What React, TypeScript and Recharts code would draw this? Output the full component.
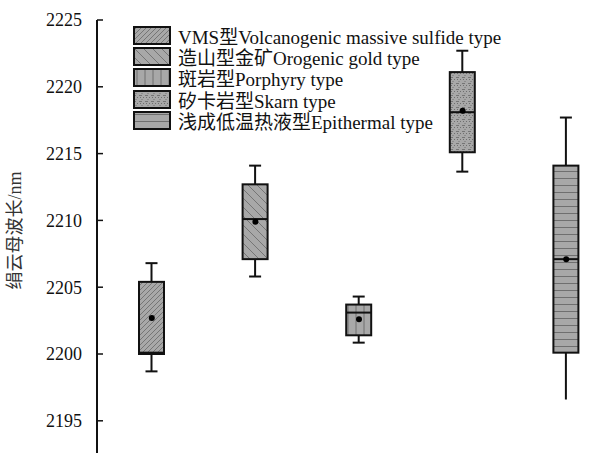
import {
  ComposedChart,
  Bar,
  Scatter,
  XAxis,
  YAxis,
  Legend,
} from "recharts";

const types = [
  "VMS型Volcanogenic massive sulfide type",
  "造山型金矿Orogenic gold type",
  "斑岩型Porphyry type",
  "矽卡岩型Skarn type",
  "浅成低温热液型Epithermal type",
];
const minVals = [2198.7, 2205.8, 2200.85, 2213.65, 2196.6];
const q1Vals = [2200.0, 2207.1, 2201.4, 2215.1, 2200.1];
const medianVals = [2200.1, 2210.1, 2203.1, 2218.1, 2207.1];
const q3Vals = [2205.4, 2212.7, 2203.7, 2221.1, 2214.1];
const maxVals = [2206.8, 2214.1, 2204.3, 2222.7, 2217.7];
const meanVals = [2202.7, 2209.9, 2202.6, 2218.2, 2207.1];
const yTicks = [2195, 2200, 2205, 2210, 2215, 2220, 2225];

const patternIds = ["pVms", "pOro", "pPor", "pSkarn", "pEpi"];
const lowerCap = [true, true, true, true, false];

const data = types.map((name, i) => ({
  name,
  min: minVals[i],
  q1: q1Vals[i],
  median: medianVals[i],
  q3: q3Vals[i],
  max: maxVals[i],
  mean: meanVals[i],
}));

const serif = "Liberation Serif, Noto Sans CJK SC";
const FILL = "#a8a8a8";
const HATCH = "#6f6f6f";

function Patterns() {
  return (
    <defs>
      <pattern id="pVms" width="5" height="5" patternUnits="userSpaceOnUse">
        <rect width="5" height="5" fill={FILL} />
        <path d="M0,5 L5,0 M-1,1 L1,-1 M4,6 L6,4" stroke={HATCH} strokeWidth="0.9" />
      </pattern>
      <pattern id="pOro" width="9" height="9" patternUnits="userSpaceOnUse">
        <rect width="9" height="9" fill={FILL} />
        <path d="M0,0 L9,9 M-1,8 L1,10 M8,-1 L10,1" stroke={HATCH} strokeWidth="0.9" />
      </pattern>
      <pattern id="pPor" width="8" height="8" patternUnits="userSpaceOnUse">
        <rect width="8" height="8" fill={FILL} />
        <path d="M4,0 L4,8" stroke={HATCH} strokeWidth="1" />
      </pattern>
      <pattern id="pSkarn" width="6" height="6" patternUnits="userSpaceOnUse">
        <rect width="6" height="6" fill={FILL} />
        <rect x="1" y="1" width="1" height="1" fill={HATCH} />
        <rect x="4" y="1" width="1" height="1" fill={HATCH} />
        <rect x="2.5" y="3" width="1" height="1" fill={HATCH} />
        <path d="M0,5.5 L3,5.5" stroke={HATCH} strokeWidth="0.9" />
      </pattern>
      <pattern id="pEpi" width="7" height="7" patternUnits="userSpaceOnUse">
        <rect width="7" height="7" fill={FILL} />
        <path d="M0,3.5 L7,3.5" stroke={HATCH} strokeWidth="1" />
      </pattern>
    </defs>
  );
}

// box + whiskers, positioned from the [min, max] range bar the chart gives us
function BoxShape(props: any) {
  const { x, y, width, height, payload, index } = props;
  if (x == null || y == null) return null;
  const top = Math.min(y, y + height);
  const bottom = Math.max(y, y + height);
  const span = payload.max - payload.min;
  const py = (v: number) => bottom - ((v - payload.min) / span) * (bottom - top);
  const cx = x + width / 2;
  const cap = 6;
  const yq1 = py(payload.q1);
  const yq3 = py(payload.q3);
  const ymed = py(payload.median);
  return (
    <g>
      <line x1={cx} x2={cx} y1={top} y2={bottom} stroke="#111" strokeWidth={2} />
      <line x1={cx - cap} x2={cx + cap} y1={top} y2={top} stroke="#111" strokeWidth={2} />
      {lowerCap[index] && (
        <line x1={cx - cap} x2={cx + cap} y1={bottom} y2={bottom} stroke="#111" strokeWidth={2} />
      )}
      <rect
        x={x}
        y={yq3}
        width={width}
        height={yq1 - yq3}
        fill={`url(#${patternIds[index]})`}
        stroke="#111"
        strokeWidth={2}
      />
      <line x1={x} x2={x + width} y1={ymed} y2={ymed} stroke="#111" strokeWidth={2} />
    </g>
  );
}

function YTick({ x, y, payload }: any) {
  return (
    <g>
      <line x1={x} x2={x + 6} y1={y} y2={y} stroke="#111" strokeWidth={1.5} />
      <text
        x={x - 15}
        y={y}
        dy="0.36em"
        textAnchor="end"
        fontFamily={serif}
        fontSize={18}
        fill="#111"
      >
        {payload.value}
      </text>
    </g>
  );
}

function YLabel({ viewBox }: any) {
  const cx = 15;
  const cy = viewBox.y + viewBox.height / 2 - 6;
  return (
    <text
      x={cx}
      y={cy}
      transform={`rotate(-90 ${cx} ${cy})`}
      textAnchor="middle"
      dominantBaseline="central"
      fontFamily={serif}
      fontSize={18}
      fill="#333"
    >
      绢云母波长/nm
    </text>
  );
}

function LegendBox() {
  return (
    <div style={{ fontFamily: serif, fontSize: 19, color: "#111" }}>
      {types.map((t, i) => (
        <div key={t} style={{ display: "flex", alignItems: "center", height: 21.2, whiteSpace: "nowrap" }}>
          <svg width={38} height={19} style={{ marginRight: 7, flex: "none" }}>
            <rect x={1} y={1} width={36} height={17} fill={`url(#${patternIds[i]})`} stroke="#111" strokeWidth={2} />
          </svg>
          <span>{t}</span>
        </div>
      ))}
    </div>
  );
}

function MeanDot({ cx, cy }: any) {
  if (cx == null || cy == null) return null;
  return <circle cx={cx} cy={cy} r={3} fill="#000" />;
}

export default function App() {
  return (
    <div
      style={{
        position: "absolute",
        left: 0,
        top: 0,
        width: 611,
        height: 453,
        overflow: "hidden",
        background: "#fff",
      }}
    >
      <ComposedChart
        width={618}
        height={453}
        data={data}
        margin={{ top: 20, right: 0, bottom: 0, left: 0 }}
      >
        <Patterns />
        <XAxis
          dataKey="name"
          orientation="top"
          height={0}
          tick={false}
          tickLine={false}
          axisLine={{ stroke: "#111", strokeWidth: 2 }}
          padding={{ left: 3, right: 0 }}
        />
        <YAxis
          type="number"
          domain={[2192.59, 2225]}
          ticks={yTicks}
          allowDataOverflow
          width={97}
          tickSize={0}
          tickMargin={0}
          tickLine={false}
          tick={<YTick />}
          axisLine={{ stroke: "#111", strokeWidth: 2 }}
          label={<YLabel />}
        />
        <Legend
          layout="vertical"
          align="center"
          verticalAlign="middle"
          wrapperStyle={{ left: 133, top: 25, width: "auto", height: "auto" }}
          content={<LegendBox />}
        />
        <Bar
          dataKey={(d: any) => [d.min, d.max]}
          barSize={25}
          shape={<BoxShape />}
          isAnimationActive={false}
        />
        <Scatter dataKey="mean" shape={<MeanDot />} isAnimationActive={false} />
      </ComposedChart>
    </div>
  );
}
